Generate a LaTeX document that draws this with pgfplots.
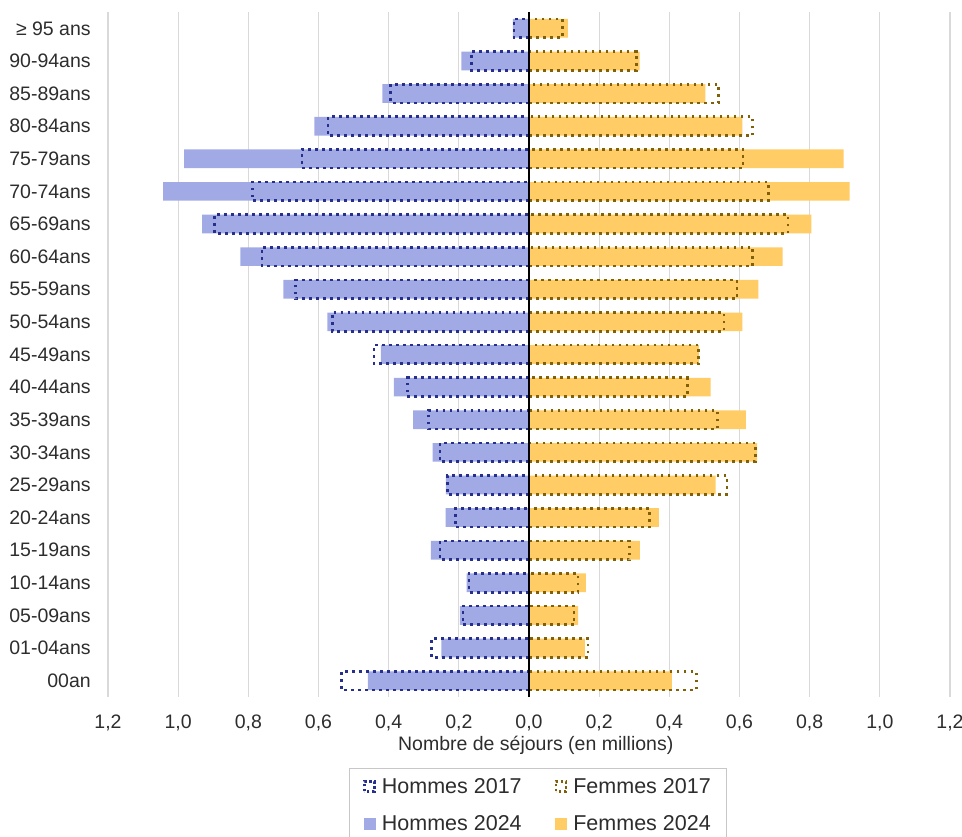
\documentclass[border=0pt]{standalone}
\usepackage{fontspec}
\setmainfont{Liberation Sans}
\usepackage{pgfplots}
\usepackage{pgfplotstable}
\pgfplotsset{compat=1.18}

\definecolor{menfill}{RGB}{162,170,230}
\definecolor{menline}{RGB}{38,48,140}
\definecolor{womfill}{RGB}{255,204,102}
\definecolor{womline}{RGB}{128,96,8}
\definecolor{gridgrey}{RGB}{217,217,217}
\definecolor{txt}{RGB}{45,45,45}

% Stays in millions, by age group (bottom: 00an, top: >= 95 ans)
\pgfplotstableread{
y  m24    m17    f24    f17
0  0.459  0.535  0.407  0.477
1  0.250  0.278  0.159  0.168
2  0.197  0.188  0.140  0.128
3  0.178  0.171  0.162  0.140
4  0.280  0.254  0.316  0.287
5  0.238  0.210  0.370  0.344
6  0.237  0.233  0.532  0.564
7  0.275  0.254  0.650  0.645
8  0.330  0.286  0.618  0.537
9  0.385  0.347  0.518  0.451
10 0.422  0.442  0.484  0.484
11 0.575  0.561  0.608  0.556
12 0.700  0.666  0.654  0.593
13 0.823  0.761  0.723  0.638
14 0.932  0.897  0.805  0.738
15 1.043  0.788  0.914  0.682
16 0.983  0.647  0.897  0.610
17 0.612  0.573  0.608  0.638
18 0.418  0.394  0.503  0.541
19 0.193  0.164  0.315  0.306
20 0.046  0.043  0.111  0.095
}\pyramid

\pgfplotsset{
  dotbar/.style={line width=2.7pt, dash pattern={on 2.7pt off 4.3pt}, fill=none},
  menold/.style={legend image code/.code={%
    \draw[menline, line width=2.4pt, dash pattern={on 2.4pt off 2.6pt}] (1pt,-5pt) rectangle (11pt,5pt);}},
  womold/.style={legend image code/.code={%
    \draw[womline, line width=2.4pt, dash pattern={on 2.4pt off 2.6pt}] (1pt,-5pt) rectangle (11pt,5pt);}},
  mennew/.style={legend image code/.code={%
    \fill[menfill] (1pt,-5.5pt) rectangle (12pt,5.5pt);}},
  womnew/.style={legend image code/.code={%
    \fill[womfill] (1pt,-5.5pt) rectangle (12pt,5.5pt);}},
}

\begin{document}
\begin{tikzpicture}
\begin{axis}[
  at={(0,0)}, anchor=south west,
  scale only axis,
  width=842pt, height=685pt,
  xbar, bar width=18.7pt, bar shift=0pt,
  xmin=-1.2, xmax=1.2,
  ymin=-0.5, ymax=20.5,
  xtick={-1.2,-1.0,-0.8,-0.6,-0.4,-0.2,0,0.2,0.4,0.6,0.8,1.0,1.2},
  xticklabels={{1,2},{1,0},{0,8},{0,6},{0,4},{0,2},{0,0},{0,2},{0,4},{0,6},{0,8},{1,0},{1,2}},
  ytick={0,...,20},
  yticklabels={00an,01-04ans,05-09ans,10-14ans,15-19ans,20-24ans,25-29ans,30-34ans,
    35-39ans,40-44ans,45-49ans,50-54ans,55-59ans,60-64ans,65-69ans,70-74ans,
    75-79ans,80-84ans,85-89ans,90-94ans,≥ 95 ans},
  xmajorgrids, ymajorgrids=false,
  major grid style={gridgrey, line width=1.1pt},
  axis line style={draw=none},
  tick style={draw=none},
  ticklabel style={font=\fontsize{19.5}{23}\selectfont, text=txt},
  xticklabel style={yshift=-14pt},
  yticklabel style={xshift=-9.5pt},
  xlabel={Nombre de séjours (en millions)},
  xlabel style={font=\fontsize{19.5}{23}\selectfont, text=txt,
    at={(axis description cs:0.508,-0.0701)}, anchor=center},
  legend columns=2,
  legend style={at={(axis description cs:0.5107,-0.1032)}, anchor=north,
    draw=black!22, line width=0.9pt,
    font=\fontsize{21.5}{25}\selectfont, text=txt,
    inner xsep=14pt, inner ysep=8pt, row sep=17pt,
    /tikz/every odd column/.append style={column sep=4pt},
    /tikz/every even column/.append style={column sep=31pt},
    legend cell align=left},
]
% 2024 values, filled
\addplot[draw=none, fill=menfill, forget plot] table[x expr=-\thisrow{m24}, y=y] {\pyramid};
\addplot[draw=none, fill=womfill, forget plot] table[x=f24, y=y] {\pyramid};
% 2017 values, dotted outlines on top
\addplot[dotbar, draw=menline, forget plot] table[x expr=-\thisrow{m17}, y=y] {\pyramid};
\addplot[dotbar, draw=womline, forget plot] table[x=f17, y=y] {\pyramid};
% central axis
\draw[black, line width=1.8pt] (axis cs:0,-0.5) -- (axis cs:0,20.5);
% legend entries
\addlegendimage{menold}\addlegendentry{Hommes 2017}
\addlegendimage{womold}\addlegendentry{Femmes 2017}
\addlegendimage{mennew}\addlegendentry{Hommes 2024}
\addlegendimage{womnew}\addlegendentry{Femmes 2024}
\end{axis}
\pgfresetboundingbox
\path[use as bounding box] (-108pt,-140pt) rectangle (854pt,697pt);
\end{tikzpicture}
\end{document}
